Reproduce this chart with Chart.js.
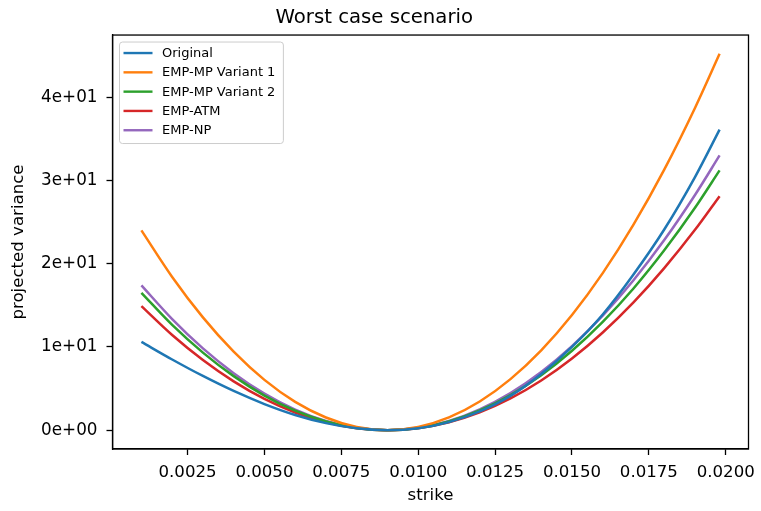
<!DOCTYPE html>
<html>
<head>
<meta charset="utf-8">
<script src="https://cdn.jsdelivr.net/npm/chart.js@4.4.1/dist/chart.umd.min.js"></script>
<style>
    html, body { margin: 0; padding: 0; background: #fff; }
</style>
</head>
<body>
<canvas id="variance-chart" width="761" height="511"></canvas>
<script>
// strike grid and the projected variance of each method
const strikes = [0.001, 0.002, 0.003, 0.004, 0.005, 0.006, 0.007, 0.008, 0.009, 0.010,
                 0.011, 0.012, 0.013, 0.014, 0.015, 0.016, 0.017, 0.018, 0.019, 0.0198];

const original   = [10.60, 8.49, 6.51, 4.71, 3.14, 1.83, 0.85, 0.22, 0, 0.23,
                    0.97, 2.25, 4.12, 6.75, 10.0, 13.9, 18.7, 24.1, 30.4, 36.1];
const empMpVar1  = [24.00, 18.41, 13.55, 9.43, 6.04, 3.40, 1.52, 0.38, 0, 0.38,
                    1.53, 3.44, 6.13, 9.59, 13.83, 18.86, 24.68, 31.29, 38.70, 45.20];
const empMpVar2  = [16.50, 12.65, 9.32, 6.49, 4.16, 2.34, 1.05, 0.26, 0, 0.26,
                    1.05, 2.37, 4.22, 6.61, 9.54, 13.01, 17.02, 21.60, 26.71, 31.20];
const empAtm     = [14.90, 11.43, 8.42, 5.86, 3.75, 2.12, 0.94, 0.24, 0, 0.24,
                    0.95, 2.14, 3.81, 5.96, 8.60, 11.73, 15.34, 19.46, 24.06, 28.11];
const empNp      = [17.40, 13.35, 9.83, 6.85, 4.39, 2.47, 1.10, 0.28, 0, 0.28,
                    1.11, 2.51, 4.46, 6.99, 10.09, 13.75, 18.00, 22.83, 28.25, 33.00];

const xTicks = [0.0025, 0.005, 0.0075, 0.01, 0.0125, 0.015, 0.0175, 0.02];
const yTicks = [0, 10, 20, 30, 40];

const FONT = "DejaVu Sans";

function toPoints(values) {
    return values.map((v, i) => ({ x: strikes[i], y: v }));
}

function sci(v) {
    if (v === 0) return "0e+00";
    const e = Math.floor(Math.log10(Math.abs(v)));
    const m = Math.round(v / Math.pow(10, e));
    return m + "e" + (e < 0 ? "-" : "+") + String(Math.abs(e)).padStart(2, "0");
}

// top/right spines plus the framed legend in the upper left corner
const frameAndLegend = {
    id: "frameAndLegend",
    afterDraw(chart) {
        const ctx = chart.ctx;
        const a = chart.chartArea;
        ctx.save();
        ctx.strokeStyle = "#000";
        ctx.lineWidth = 1.3;
        ctx.strokeRect(a.left, a.top, a.right - a.left, a.bottom - a.top);

        const x0 = a.left + 7;
        const y0 = a.top + 7;
        const rowH = 19.3;
        ctx.font = "13px '" + FONT + "'";
        let maxW = 0;
        chart.data.datasets.forEach(ds => {
            maxW = Math.max(maxW, ctx.measureText(ds.label).width);
        });
        const w = 42.5 + maxW + 8;
        const h = chart.data.datasets.length * rowH + 5;
        ctx.beginPath();
        ctx.roundRect(x0, y0, w, h, 3);
        ctx.fillStyle = "rgba(255,255,255,0.8)";
        ctx.fill();
        ctx.strokeStyle = "#cccccc";
        ctx.lineWidth = 1;
        ctx.stroke();

        ctx.textBaseline = "middle";
        ctx.textAlign = "left";
        chart.data.datasets.forEach((ds, i) => {
            const y = y0 + 11 + i * rowH;
            ctx.beginPath();
            ctx.moveTo(x0 + 4, y);
            ctx.lineTo(x0 + 33, y);
            ctx.strokeStyle = ds.borderColor;
            ctx.lineWidth = 2.4;
            ctx.stroke();
            ctx.fillStyle = "#000";
            ctx.fillText(ds.label, x0 + 42.5, y + 0.5);
        });
        ctx.restore();
    },
};

const varianceCtx = document.getElementById("variance-chart");

let varianceChart = new Chart(varianceCtx, {
    type: "line",
    data: {
        datasets: [
            { label: "Original", data: toPoints(original), borderColor: "#1f77b4" },
            { label: "EMP-MP Variant 1", data: toPoints(empMpVar1), borderColor: "#ff7f0e" },
            { label: "EMP-MP Variant 2", data: toPoints(empMpVar2), borderColor: "#2ca02c" },
            { label: "EMP-ATM", data: toPoints(empAtm), borderColor: "#d62728" },
            { label: "EMP-NP", data: toPoints(empNp), borderColor: "#9467bd" },
        ],
    },
    options: {
        responsive: false,
        animation: false,
        devicePixelRatio: 1,
        layout: { padding: { left: 0, right: 12.5, top: 0, bottom: 0 } },
        elements: {
            point: { radius: 0 },
            line: { borderWidth: 2.5, cubicInterpolationMode: "monotone", fill: false },
        },
        plugins: {
            legend: { display: false },
            tooltip: { enabled: false },
            title: {
                display: true,
                text: "Worst case scenario",
                color: "#000",
                font: { family: FONT, size: 19.7, weight: "normal" },
                padding: { top: 6, bottom: 5.4 },
            },
        },
        scales: {
            x: {
                type: "linear",
                min: 0.00006,
                max: 0.02074,
                afterBuildTicks(scale) {
                    scale.ticks = xTicks.map(v => ({ value: v }));
                },
                afterFit(scale) {
                    scale.height = 62;
                    scale.paddingLeft = 0;
                    scale.paddingRight = 0;
                },
                grid: {
                    drawOnChartArea: false,
                    drawTicks: true,
                    tickLength: 6,
                    tickColor: "#000",
                    tickWidth: 1.3,
                },
                border: { display: true, color: "#000", width: 1.3 },
                ticks: {
                    color: "#000",
                    padding: 8,
                    maxRotation: 0,
                    autoSkip: false,
                    font: { family: FONT, size: 16.6 },
                    callback: v => v.toFixed(4),
                },
                title: {
                    display: true,
                    text: "strike",
                    color: "#000",
                    font: { family: FONT, size: 16.6 },
                    padding: { top: 0, bottom: 5 },
                },
            },
            y: {
                type: "linear",
                min: -2.26,
                max: 47.46,
                afterBuildTicks(scale) {
                    scale.ticks = yTicks.map(v => ({ value: v }));
                },
                afterFit(scale) {
                    scale.width = 112.5;
                },
                grid: {
                    drawOnChartArea: false,
                    drawTicks: true,
                    tickLength: 6,
                    tickColor: "#000",
                    tickWidth: 1.3,
                },
                border: { display: true, color: "#000", width: 1.3 },
                ticks: {
                    color: "#000",
                    padding: 9,
                    autoSkip: false,
                    font: { family: FONT, size: 16.8 },
                    callback: v => sci(v),
                },
                title: {
                    display: true,
                    text: "projected variance",
                    color: "#000",
                    font: { family: FONT, size: 16.6 },
                    padding: { top: 8.5, bottom: 0 },
                },
            },
        },
    },
    plugins: [frameAndLegend],
});
</script>
</body>
</html>
